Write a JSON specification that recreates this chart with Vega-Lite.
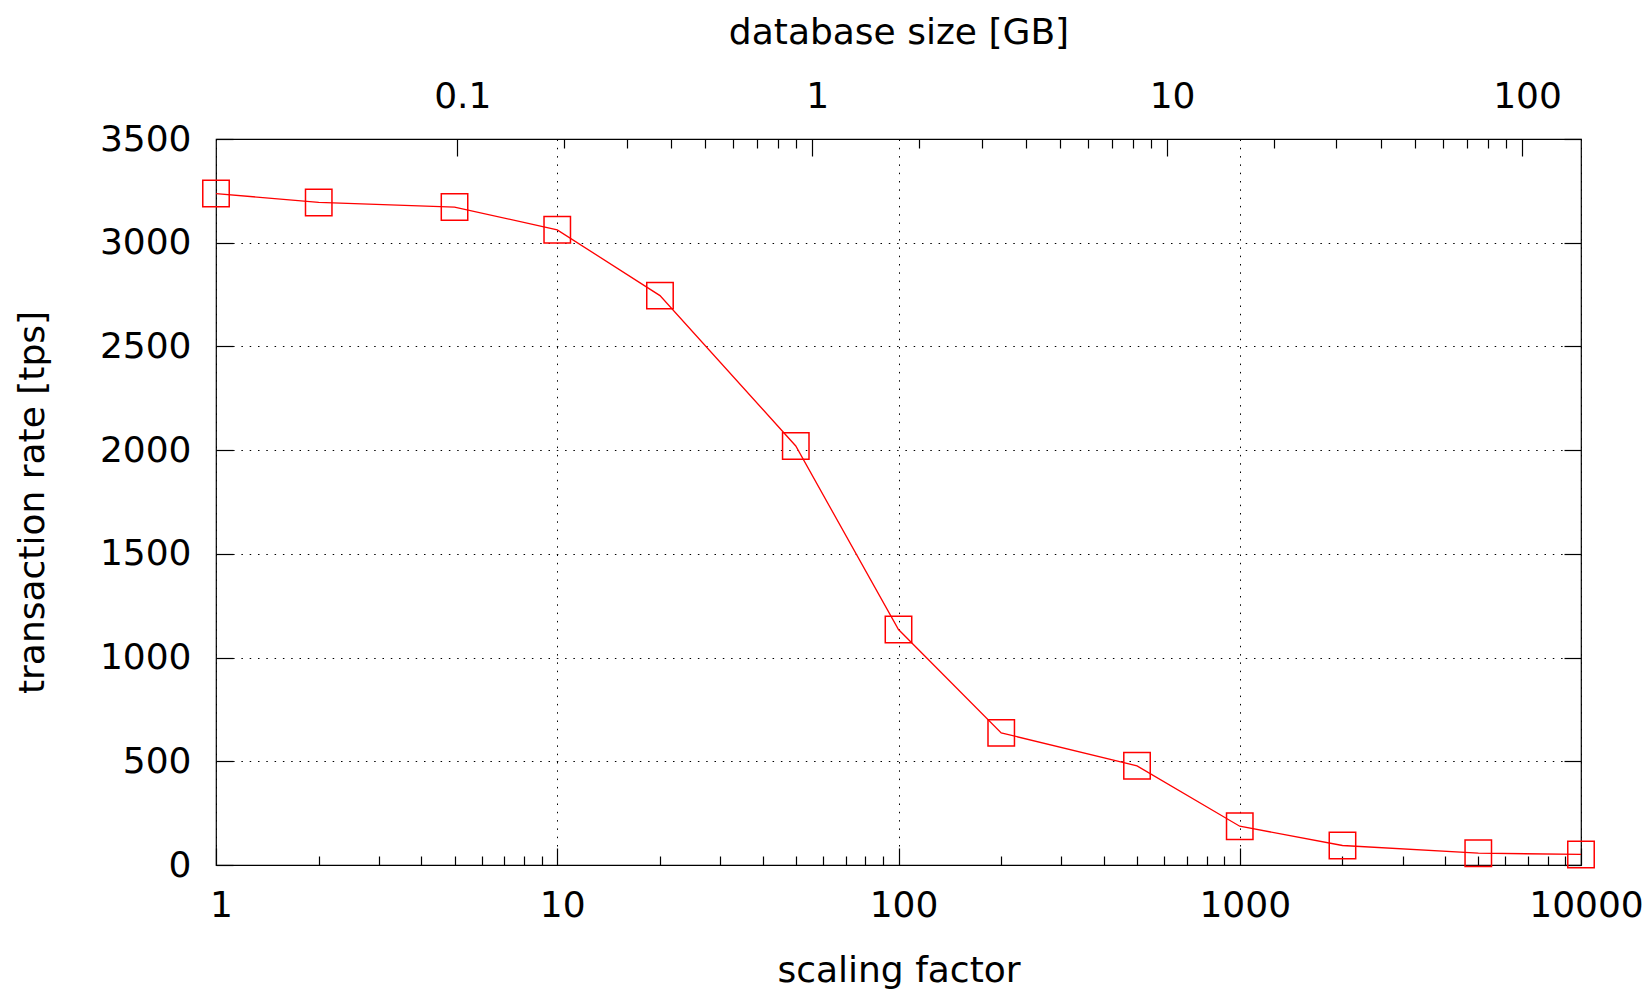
{
  "$schema": "https://vega.github.io/schema/vega-lite/v6.json",
  "width": 1365,
  "height": 726,
  "autosize": {"type": "none"},
  "padding": {"left": 216, "top": 139, "right": 66, "bottom": 126},
  "background": "white",
  "config": {
    "view": {"stroke": "#000", "strokeWidth": 1.2},
    "font": "DejaVu Sans",
    "axis": {
      "labelFont": "DejaVu Sans", "titleFont": "DejaVu Sans",
      "labelFontSize": 36, "titleFontSize": 36,
      "labelColor": "#000", "titleColor": "#000", "titleFontWeight": "normal",
      "domain": false, "tickColor": "#000", "tickWidth": 1.2,
      "gridColor": "#000", "gridDash": [1.5, 6.8], "gridWidth": 1, "gridOpacity": 1,
      "labelOverlap": false, "labelFlush": false, "labelBound": false
    }
  },
  "datasets": {
    "perf": [
      {"sf": 1, "tps": 3237},
      {"sf": 2, "tps": 3194},
      {"sf": 5, "tps": 3172},
      {"sf": 10, "tps": 3062},
      {"sf": 20, "tps": 2745},
      {"sf": 50, "tps": 2020},
      {"sf": 100, "tps": 1135},
      {"sf": 200, "tps": 637},
      {"sf": 500, "tps": 478},
      {"sf": 1000, "tps": 187},
      {"sf": 2000, "tps": 94},
      {"sf": 5000, "tps": 57},
      {"sf": 10000, "tps": 51}
    ],
    "gb": [{"gb": 0.1}, {"gb": 100}]
  },
  "resolve": {
    "scale": {"x": "independent", "y": "independent"},
    "axis": {"x": "independent", "y": "independent"}
  },
  "layer": [
    {
      "data": {"name": "perf"},
      "mark": {"type": "point", "opacity": 0},
      "encoding": {
        "x": {"field": "sf", "type": "quantitative",
          "scale": {"type": "log", "domain": [1, 10000]},
          "axis": {"orient": "bottom", "values": [1, 10, 100, 1000, 10000], "format": "d",
            "grid": true, "ticks": false, "tickSize": 0, "labelPadding": 51, "labelOffset": 5,
            "labelBaseline": "alphabetic",
            "title": "scaling factor", "titleY": 116, "titleBaseline": "alphabetic"}},
        "y": {"field": "tps", "type": "quantitative",
          "scale": {"domain": [0, 3500]},
          "axis": {"orient": "left", "values": [0, 500, 1000, 1500, 2000, 2500, 3000, 3500], "format": "d",
            "grid": true, "ticks": false, "tickSize": 0, "labelPadding": 25,
            "title": "transaction rate [tps]", "titleX": -173, "titleY": 363, "titleAngle": -90,
            "titleBaseline": "alphabetic", "titleAlign": "center"}}
      }
    },
    {
      "data": {"name": "perf"},
      "mark": {"type": "point", "opacity": 0},
      "encoding": {
        "x": {"field": "sf", "type": "quantitative",
          "scale": {"type": "log", "domain": [1, 10000]},
          "axis": {"orient": "bottom", "values": [1, 10, 100, 1000, 10000],
            "grid": false, "labels": false, "tickSize": -17, "title": null}},
        "y": {"field": "tps", "type": "quantitative",
          "scale": {"domain": [0, 3500]},
          "axis": {"orient": "left", "values": [0, 500, 1000, 1500, 2000, 2500, 3000, 3500],
            "grid": false, "labels": false, "tickSize": -17, "title": null}}
      }
    },
    {
      "data": {"name": "perf"},
      "mark": {"type": "point", "opacity": 0},
      "encoding": {
        "x": {"field": "sf", "type": "quantitative",
          "scale": {"type": "log", "domain": [1, 10000]},
          "axis": {"orient": "bottom",
            "values": [2, 3, 4, 5, 6, 7, 8, 9, 20, 30, 40, 50, 60, 70, 80, 90, 200, 300, 400, 500, 600, 700, 800, 900, 2000, 3000, 4000, 5000, 6000, 7000, 8000, 9000],
            "grid": false, "labels": false, "tickSize": -9, "title": null}},
        "y": {"field": "tps", "type": "quantitative",
          "scale": {"domain": [0, 3500]},
          "axis": {"orient": "right", "values": [0, 500, 1000, 1500, 2000, 2500, 3000, 3500],
            "grid": false, "labels": false, "tickSize": -17, "title": null}}
      }
    },
    {
      "data": {"name": "gb"},
      "mark": {"type": "point", "opacity": 0},
      "encoding": {
        "x": {"field": "gb", "type": "quantitative",
          "scale": {"type": "log", "domain": [0.0209, 146.6]},
          "axis": {"orient": "top", "values": [0.1, 1, 10, 100], "format": "~g",
            "grid": false, "ticks": false, "tickSize": 0, "labelPadding": 32, "labelOffset": 5,
            "labelBaseline": "alphabetic",
            "title": "database size [GB]", "titleY": -96, "titleBaseline": "alphabetic"}}
      }
    },
    {
      "data": {"name": "gb"},
      "mark": {"type": "point", "opacity": 0},
      "encoding": {
        "x": {"field": "gb", "type": "quantitative",
          "scale": {"type": "log", "domain": [0.0209, 146.6]},
          "axis": {"orient": "top", "values": [0.1, 1, 10, 100],
            "grid": false, "labels": false, "tickSize": -17, "title": null}}
      }
    },
    {
      "data": {"name": "gb"},
      "mark": {"type": "point", "opacity": 0},
      "encoding": {
        "x": {"field": "gb", "type": "quantitative",
          "scale": {"type": "log", "domain": [0.0209, 146.6]},
          "axis": {"orient": "top",
            "values": [0.2, 0.3, 0.4, 0.5, 0.6, 0.7, 0.8, 0.9, 2, 3, 4, 5, 6, 7, 8, 9, 20, 30, 40, 50, 60, 70, 80, 90],
            "grid": false, "labels": false, "tickSize": -9, "title": null}}
      }
    },
    {
      "data": {"name": "perf"},
      "mark": {"type": "line", "color": "#ff0000", "strokeWidth": 1.3, "clip": false},
      "encoding": {
        "x": {"field": "sf", "type": "quantitative", "scale": {"type": "log", "domain": [1, 10000]}, "axis": null},
        "y": {"field": "tps", "type": "quantitative", "scale": {"domain": [0, 3500]}, "axis": null}
      }
    },
    {
      "data": {"name": "perf"},
      "mark": {"type": "point", "shape": "square", "filled": false, "color": "#ff0000", "strokeWidth": 1.5, "size": 700, "opacity": 1},
      "encoding": {
        "x": {"field": "sf", "type": "quantitative", "scale": {"type": "log", "domain": [1, 10000]}, "axis": null},
        "y": {"field": "tps", "type": "quantitative", "scale": {"domain": [0, 3500]}, "axis": null}
      }
    }
  ]
}
